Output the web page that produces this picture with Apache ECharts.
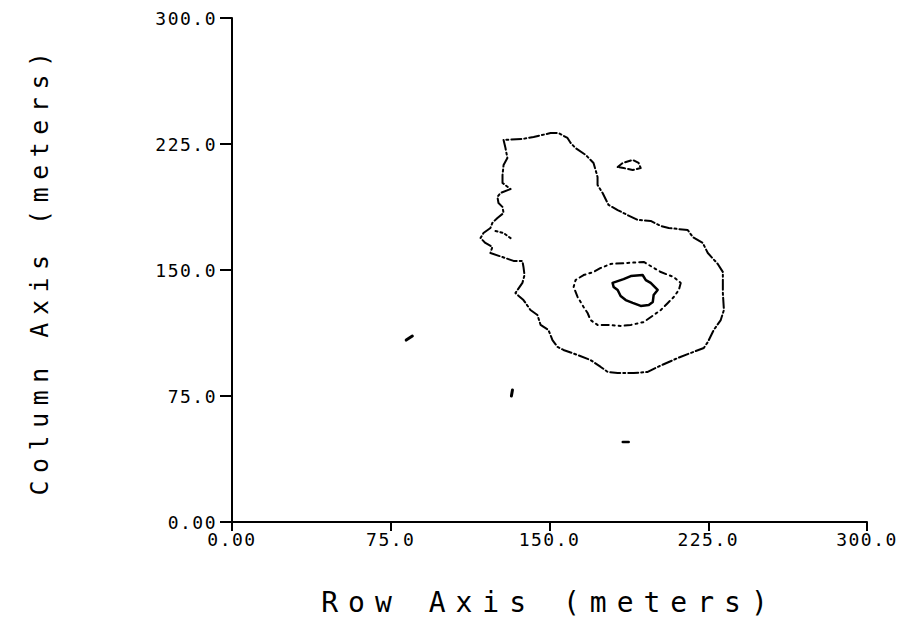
<!DOCTYPE html>
<html>
<head>
<meta charset="utf-8">
<script src="https://cdn.jsdelivr.net/npm/echarts@6/dist/echarts.min.js"></script>
<style>
html,body{margin:0;padding:0;background:#fff;}
#main{width:912px;height:627px;}
</style>
</head>
<body>
<div id="main"></div>
<script>
// ---- data (meters) ----
const tickValues = [0, 75, 150, 225, 300];
const xTickLabels = ['0.00', '75.0', '150.0', '225.0', '300.0'];
const yTickLabels = ['0.00', '75.0', '150.0', '225.0', '300.0'];
const xTitle = 'Row Axis (meters)';
const yTitle = 'Column Axis (meters)';

const outerContour = [
  [128.3,227.4],[129.2,222.6],[130.1,216.7],[128.3,212.5],[127.8,206.5],[127.8,201.8],
  [131.6,198.2],[126.8,195.8],[125.4,193.5],[125.9,189.9],[127.8,187.5],[128.3,183.9],
  [125.4,181.0],[123.0,178.0],[122.1,175.0],[118.8,172.0],[117.4,169.0],[119.7,166.1],
  [123.0,163.7],[122.1,160.1],[127.8,157.7],[133.0,155.4],[137.2,155.4],[137.7,151.8],
  [138.2,147.0],[137.2,142.3],[133.9,136.3],[137.7,132.1],[141.0,126.2],[144.3,123.2],
  [145.8,117.3],[149.5,114.3],[151.4,108.3],[153.8,104.2],[156.6,102.4],[163.3,99.4],
  [169.4,96.4],[174.2,92.3],[177.5,89.3],[182.2,88.7],[189.8,88.7],[196.4,89.3],
  [201.1,92.3],[210.6,97.6],[216.7,100.6],[222.9,103.6],[224.8,107.1],[227.6,114.3],
  [230.9,120.2],[232.4,126.2],[231.9,136.3],[231.9,148.8],[229.5,153.6],[224.8,160.1],
  [222.4,166.1],[217.7,169.6],[215.3,173.8],[206.3,175.0],[202.6,176.2],[197.8,179.2],
  [191.7,179.8],[186.9,182.7],[182.2,185.7],[177.9,188.7],[175.1,195.8],[172.7,200.6],
  [172.7,205.4],[170.8,213.7],[167.1,218.5],[162.3,222.6],[160.0,225.6],[158.5,228.6],
  [154.3,231.5],[150.5,231.5],[142.5,229.2],[137.2,228.0],[128.3,227.4]
];
const middleContour = [
  [166.1,147.0],[170.8,148.8],[174.2,151.2],[178.9,153.6],[186.9,154.2],[194.5,154.8],
  [202.6,148.8],[208.7,145.8],[212.0,142.3],[211.1,138.1],[208.7,133.9],[205.9,130.4],
  [202.6,126.2],[194.5,119.0],[188.4,117.3],[183.6,116.7],[177.5,117.3],[172.7,117.3],
  [169.4,120.2],[168.0,124.4],[166.1,128.0],[163.3,133.9],[161.4,139.9],[162.3,144.0],
  [166.1,147.0]
];
const innerContour = [
  [179.8,142.3],[185.0,144.6],[188.4,146.4],[194.0,147.0],[195.5,144.0],[197.8,142.3],
  [201.1,138.1],[199.2,135.1],[198.8,131.0],[196.9,129.2],[193.1,128.6],[189.3,130.4],
  [186.0,132.1],[183.6,134.5],[182.2,138.1],[180.3,139.9],[179.8,142.3]
];
const smallContour = [
  [182.2,211.3],[184.6,213.7],[189.3,215.5],[192.1,213.7],[193.1,210.7],[189.3,209.5],
  [185.0,210.7],[182.2,211.3]
];
const notchContour = [[124.5,173.2],[128.3,172.0],[131.6,169.0]];
const spotA = [[82.3,108.3],[85.2,110.7]];
const spotB = [[132.5,78.6],[132.0,75.0]];
const spotC = [[184.6,47.6],[187.4,47.6]];

function lineSeries(data, type, width) {
  return {
    type: 'line', data: data, showSymbol: false, symbol: 'none', smooth: false,
    silent: true, animation: false,
    lineStyle: { color: '#000', width: width, type: type, cap: 'round', join: 'round' }
  };
}

const axisCommon = {
  type: 'value', min: 0, max: 300, interval: 75,
  axisLine: { show: true, onZero: false, lineStyle: { color: '#000', width: 2 } },
  axisTick: { show: true, inside: false, lineStyle: { color: '#000', width: 2 } },
  splitLine: { show: false },
  nameLocation: 'middle',
  nameTextStyle: { color: '#000', fontFamily: 'DejaVu Sans Mono' }
};

const option = {
  backgroundColor: '#fff',
  animation: false,
  grid: { left: 232, right: 45, top: 18, bottom: 105, containLabel: false, outerBoundsMode: 'none' },
  xAxis: Object.assign({}, axisCommon, {
    name: xTitle, nameGap: 66,
    nameTextStyle: { color: '#000', fontFamily: 'DejaVu Sans Mono', fontSize: 28 },
    axisTick: { show: true, inside: false, length: 9, lineStyle: { color: '#000', width: 2 } },
    axisLabel: { margin: 8, color: '#000', fontFamily: 'DejaVu Sans Mono', fontSize: 18,
      formatter: v => xTickLabels[tickValues.indexOf(v)] }
  }),
  yAxis: Object.assign({}, axisCommon, {
    name: yTitle, nameGap: 180,
    nameTextStyle: { color: '#000', fontFamily: 'DejaVu Sans Mono', fontSize: 25 },
    axisTick: { show: true, inside: false, length: 12, lineStyle: { color: '#000', width: 2 } },
    axisLabel: { margin: 15, color: '#000', fontFamily: 'DejaVu Sans Mono', fontSize: 18,
      formatter: v => yTickLabels[tickValues.indexOf(v)] }
  }),
  series: [
    lineSeries(outerContour, [10, 3, 2, 3], 2),
    lineSeries(middleContour, [2, 4, 2, 4, 7, 4], 2),
    lineSeries(innerContour, 'solid', 2.5),
    lineSeries(smallContour, [6, 3], 2),
    lineSeries(notchContour, [2, 3], 2),
    lineSeries(spotA, 'solid', 3),
    lineSeries(spotB, 'solid', 3),
    lineSeries(spotC, 'solid', 2.5)
  ]
};

const chart = echarts.init(document.getElementById('main'), null, { renderer: 'svg', width: 912, height: 627 });
chart.setOption(option);

function applySpacing() {
  document.querySelectorAll('#main svg text').forEach(t => {
    const s = t.textContent;
    if (s === xTitle) t.style.letterSpacing = '10px';
    else if (s === yTitle) t.style.letterSpacing = '7.5px';
    else t.style.letterSpacing = '1.5px';
  });
}
chart.on('finished', applySpacing);
applySpacing();
</script>
</body>
</html>
